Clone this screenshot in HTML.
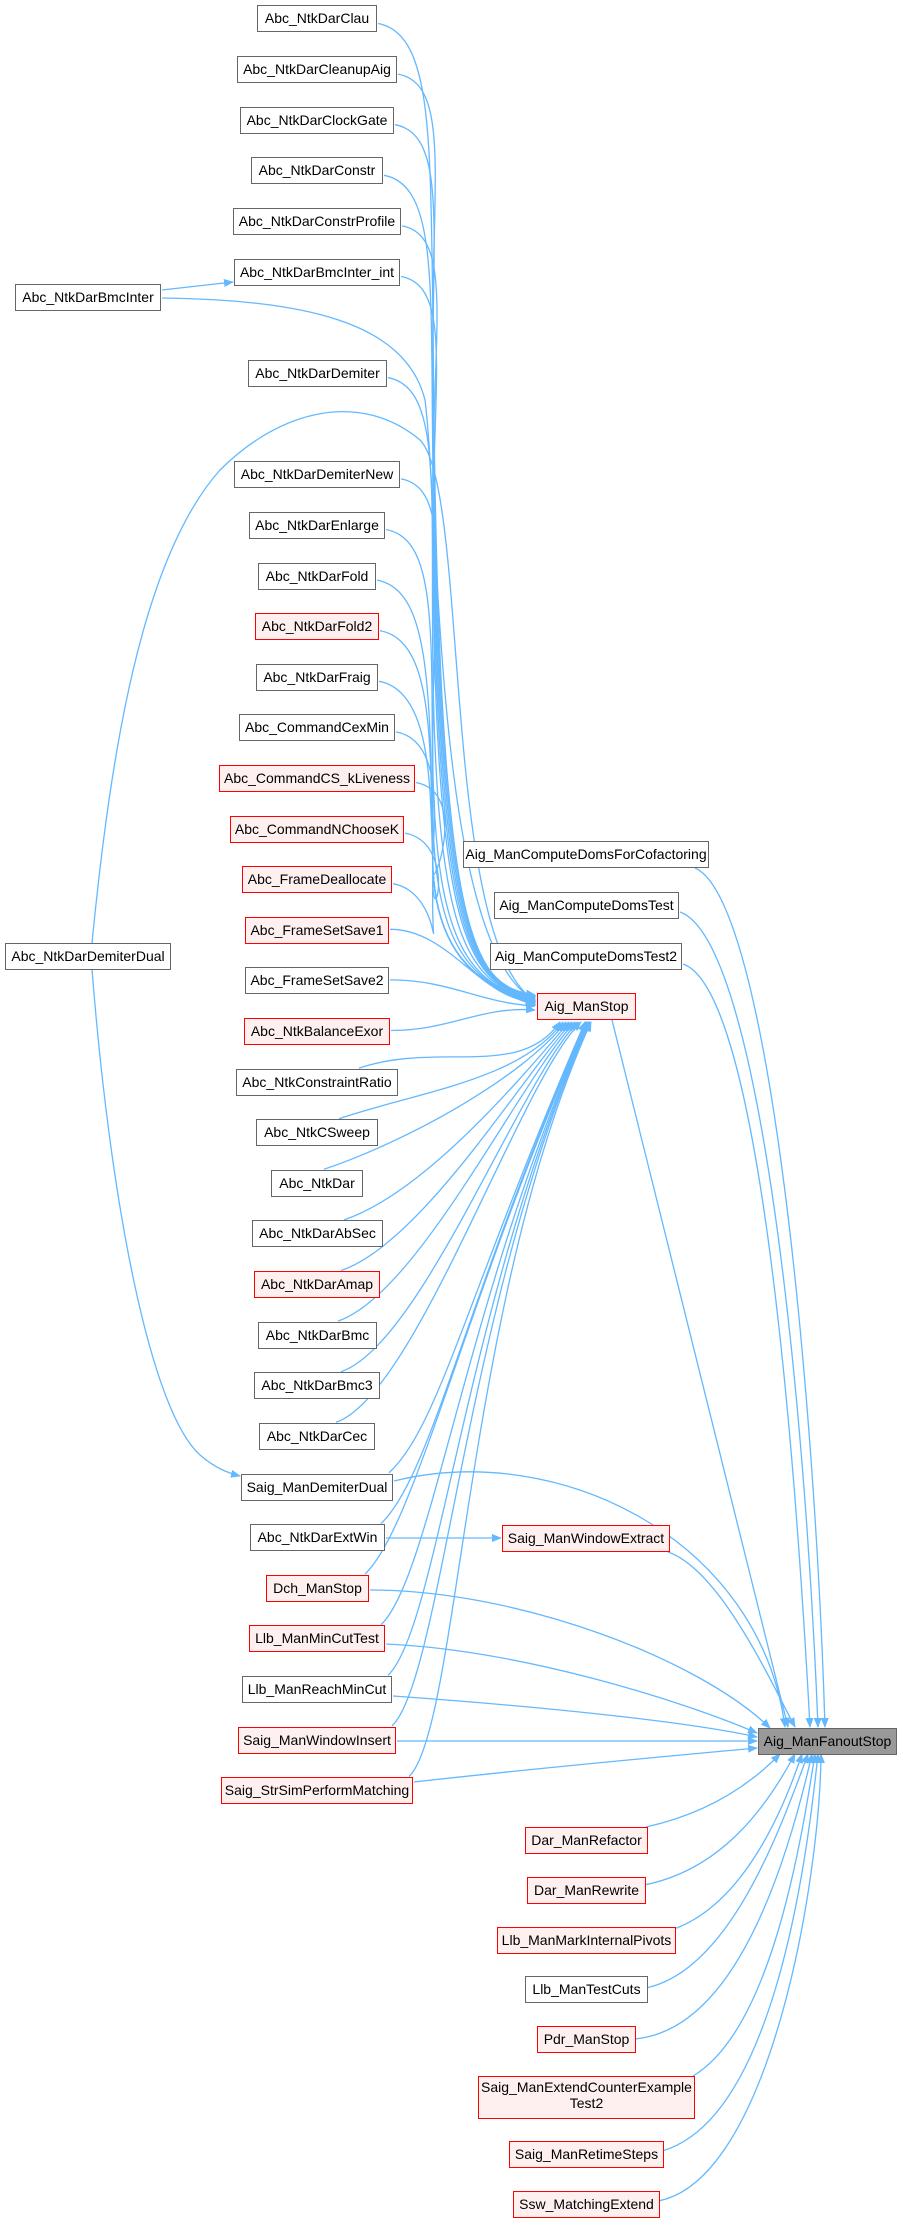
<!DOCTYPE html>
<html><head><meta charset="utf-8">
<style>
html,body{margin:0;padding:0;background:#fff;}
body{width:903px;height:2232px;position:relative;overflow:hidden;font-family:"Liberation Sans",Arial,sans-serif;}
.n{position:absolute;height:25px;border:1.5px solid #666;background:#fff;font-size:14px;line-height:25px;text-align:center;color:#000;white-space:nowrap;box-sizing:content-box;}
.r{border-color:#f00;background:#fff0f0;}
.g{background:#999;border-color:#666;}
svg{position:absolute;left:0;top:0;}
</style></head><body>
<svg id="s" width="903" height="2232" xmlns="http://www.w3.org/2000/svg">
<defs><marker id="a" markerWidth="10" markerHeight="8" refX="9" refY="4" orient="auto" markerUnits="userSpaceOnUse"><path d="M0,0 L10,4 L0,8 z" fill="#63b8ff"/></marker></defs>
<g id="e" fill="none" stroke="#63b8ff" stroke-width="1.3"></g>
</svg>

<div class="n" style="left:257px;top:5px;width:118px">Abc_NtkDarClau</div>
<div class="n" style="left:237px;top:56px;width:158px">Abc_NtkDarCleanupAig</div>
<div class="n" style="left:240px;top:107px;width:152px">Abc_NtkDarClockGate</div>
<div class="n" style="left:251px;top:157px;width:130px">Abc_NtkDarConstr</div>
<div class="n" style="left:233px;top:208px;width:166px">Abc_NtkDarConstrProfile</div>
<div class="n" style="left:234px;top:259px;width:164px">Abc_NtkDarBmcInter_int</div>
<div class="n" style="left:15px;top:284px;width:144px">Abc_NtkDarBmcInter</div>
<div class="n" style="left:248px;top:360px;width:137px">Abc_NtkDarDemiter</div>
<div class="n" style="left:234px;top:461px;width:164px">Abc_NtkDarDemiterNew</div>
<div class="n" style="left:249px;top:512px;width:134px">Abc_NtkDarEnlarge</div>
<div class="n" style="left:258px;top:563px;width:116px">Abc_NtkDarFold</div>
<div class="n r" style="left:255px;top:613px;width:122px">Abc_NtkDarFold2</div>
<div class="n" style="left:256px;top:664px;width:120px">Abc_NtkDarFraig</div>
<div class="n" style="left:239px;top:714px;width:154px">Abc_CommandCexMin</div>
<div class="n r" style="left:219px;top:765px;width:194px">Abc_CommandCS_kLiveness</div>
<div class="n r" style="left:230px;top:816px;width:172px">Abc_CommandNChooseK</div>
<div class="n r" style="left:242px;top:866px;width:148px">Abc_FrameDeallocate</div>
<div class="n r" style="left:245px;top:917px;width:142px">Abc_FrameSetSave1</div>
<div class="n" style="left:245px;top:967px;width:142px">Abc_FrameSetSave2</div>
<div class="n r" style="left:244px;top:1018px;width:144px">Abc_NtkBalanceExor</div>
<div class="n" style="left:236px;top:1069px;width:160px">Abc_NtkConstraintRatio</div>
<div class="n" style="left:256px;top:1119px;width:120px">Abc_NtkCSweep</div>
<div class="n" style="left:271px;top:1170px;width:90px">Abc_NtkDar</div>
<div class="n" style="left:252px;top:1220px;width:129px">Abc_NtkDarAbSec</div>
<div class="n r" style="left:254px;top:1271px;width:124px">Abc_NtkDarAmap</div>
<div class="n" style="left:258px;top:1322px;width:117px">Abc_NtkDarBmc</div>
<div class="n" style="left:254px;top:1372px;width:124px">Abc_NtkDarBmc3</div>
<div class="n" style="left:259px;top:1423px;width:114px">Abc_NtkDarCec</div>
<div class="n" style="left:241px;top:1474px;width:150px">Saig_ManDemiterDual</div>
<div class="n" style="left:250px;top:1524px;width:133px">Abc_NtkDarExtWin</div>
<div class="n r" style="left:266px;top:1575px;width:101px">Dch_ManStop</div>
<div class="n r" style="left:249px;top:1625px;width:134px">Llb_ManMinCutTest</div>
<div class="n" style="left:242px;top:1676px;width:148px">Llb_ManReachMinCut</div>
<div class="n r" style="left:238px;top:1727px;width:156px">Saig_ManWindowInsert</div>
<div class="n r" style="left:221px;top:1777px;width:190px">Saig_StrSimPerformMatching</div>
<div class="n" style="left:5px;top:943px;width:164px">Abc_NtkDarDemiterDual</div>

<div class="n" style="left:463px;top:841px;width:244px">Aig_ManComputeDomsForCofactoring</div>
<div class="n" style="left:494px;top:892px;width:183px">Aig_ManComputeDomsTest</div>
<div class="n" style="left:490px;top:943px;width:190px">Aig_ManComputeDomsTest2</div>
<div class="n r" style="left:537px;top:993px;width:97px">Aig_ManStop</div>
<div class="n r" style="left:502px;top:1525px;width:166px">Saig_ManWindowExtract</div>
<div class="n g" style="left:758px;top:1728px;width:137px">Aig_ManFanoutStop</div>

<div class="n r" style="left:525px;top:1827px;width:121px">Dar_ManRefactor</div>
<div class="n r" style="left:527px;top:1877px;width:117px">Dar_ManRewrite</div>
<div class="n r" style="left:497px;top:1927px;width:177px">Llb_ManMarkInternalPivots</div>
<div class="n" style="left:525px;top:1976px;width:121px">Llb_ManTestCuts</div>
<div class="n r" style="left:537px;top:2026px;width:97px">Pdr_ManStop</div>
<div class="n r" style="left:478px;top:2076px;width:215px;height:39px;line-height:16px;padding-top:2px">Saig_ManExtendCounterExample<br>Test2</div>
<div class="n r" style="left:509px;top:2141px;width:153px">Saig_ManRetimeSteps</div>
<div class="n r" style="left:513px;top:2191px;width:145px">Ssw_MatchingExtend</div>

<script>
var g=document.getElementById('e');
function P(d,arrow){var p=document.createElementNS('http://www.w3.org/2000/svg','path');p.setAttribute('d',d);if(arrow!==false)p.setAttribute('marker-end','url(#a)');g.appendChild(p);}
var rows=[[0,378],[1,398],[2,395],[3,384],[4,402],[5,401],[7,388],[9,401],[10,386],[11,377],[12,380],[13,379],[14,396],[15,416],[16,405],[17,393],[18,390],[19,390],[20,391],[21,399],[22,379],[23,364],[24,384],[25,381],[26,378],[27,381],[28,376],[29,394],[30,386],[31,370],[32,386],[33,393],[34,397],[35,414]];
rows.forEach(function(r){var k=r[0],xr=r[1],yc=18.5+50.6*k;
 if(k<=17){var ty=995+k*0.6;P('M'+xr+','+(yc+5)+' C'+(xr+55)+','+(yc+15)+' 430,'+(yc+120)+' 433,'+Math.min(yc+300,870)+' C437,945 470,985 535,'+ty);}
 else if(k<=20){P('M'+xr+','+yc+' C'+(xr+60)+','+yc+' 480,'+(1000+(k-18)*3)+' 535,'+(1002+(k-18)*4));}
 else if(k<=28){P('M'+(xr-40)+','+(yc-13)+' C'+(xr+40)+','+(yc-40)+' 520,1080 '+(560+(k-21)*3)+',1022');}
 else{P('M'+(xr-5)+','+(yc-13)+' C'+(xr+45)+','+(yc-60)+' 465,1300 '+(585+(k-29))+',1022');}
});
P('M162,290 L233,282');
P('M162,298 C300,300 405,320 425,400 C440,520 435,950 535,1000');
P('M92,943 C110,760 140,560 220,470 C280,410 360,390 420,440 C470,490 440,940 535,1001');
P('M92,969 C110,1200 150,1410 200,1455 C215,1468 228,1473 240,1476');
P('M386,1538 L501,1538');
P('M612,1020 L788,1727');
P('M695,868 C770,900 815,1400 825,1727');
P('M680,912 C760,940 805,1400 818,1727');
P('M683,964 C760,990 795,1450 810,1727');
P('M668,1552 C720,1570 770,1680 795,1727');
P('M394,1481 C560,1440 760,1540 785,1727');
P('M370,1590 C520,1590 700,1660 770,1728');
P('M386,1644 C520,1650 680,1700 757,1733');
P('M393,1696 C520,1705 680,1720 757,1737');
P('M397,1741 L757,1741');
P('M414,1782 C520,1770 680,1755 757,1748');
P('M646,1827 C700,1815 745,1790 780,1754');
P('M644,1885 C720,1870 765,1810 795,1754');
P('M674,1929 C740,1905 780,1820 802,1754');
P('M646,1988 C730,1970 780,1830 808,1754');
P('M634,2039 C740,2030 790,1850 812,1754');
P('M693,2076 C770,2030 800,1850 815,1754');
P('M662,2151 C770,2120 805,1880 818,1754');
P('M658,2201 C770,2180 820,1880 821,1754');
</script>
</body></html>
